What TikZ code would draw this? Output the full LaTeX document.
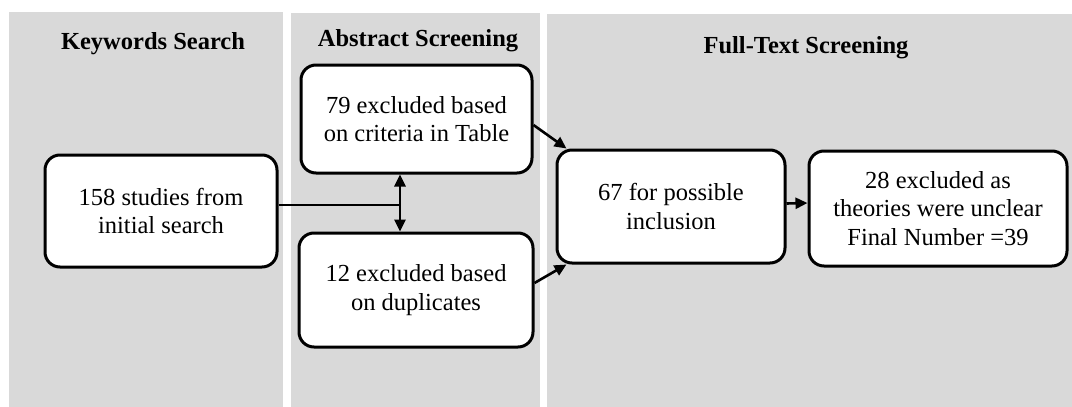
\documentclass[tikz,border=0pt]{standalone}
\usepackage{fontspec}
\setmainfont{Liberation Serif}
\usetikzlibrary{arrows.meta,calc}
\definecolor{panelgray}{HTML}{D9D9D9}
\begin{document}
\begin{tikzpicture}[x=1pt,y=-1pt,
  panel/.style={fill=panelgray,draw=none},
  title/.style={font=\fontsize{24.5}{28}\selectfont\bfseries,anchor=base},
  flowbox/.style={draw=black,fill=white,line width=3pt,rounded corners=15pt,
    align=center,font=\fontsize{24.5}{28.5}\selectfont,inner sep=0pt},
  conn/.style={line width=2.6pt},
  arr/.style={conn,-{Triangle[length=12pt,width=11pt]}},
  darr/.style={conn,{Triangle[length=12pt,width=11pt]}-{Triangle[length=12pt,width=11pt]}}]
\useasboundingbox (0,0) rectangle (1072,407);
\fill[white] (0,0) rectangle (1072,407);
% panels
\path[panel] (9,12) rectangle (283,407);
\path[panel] (291,13) rectangle (540,407);
\path[panel] (547,14) rectangle (1072,407);
% titles
\node[title] (t1) at (153,49) {Keywords Search};
\node[title] (t2) at (418,46) {Abstract Screening};
\node[title] (t3) at (806,53) {Full-Text Screening};
% boxes
\node[flowbox,minimum width=232pt,minimum height=112pt] (A) at (161,211) {158 studies from\\initial search};
\node[flowbox,minimum width=231pt,minimum height=108pt] (B) at (416.5,119) {79 excluded based\\on criteria in Table};
\node[flowbox,minimum width=234pt,minimum height=114pt] (C) at (416,290) {12 excluded based\\on duplicates};
\node[flowbox,minimum width=228pt,minimum height=113pt] (D) at (671,206.5) {67 for possible\\inclusion};
\node[flowbox,minimum width=258pt,minimum height=115pt] (E) at (938,208.5) {28 excluded as\\theories were unclear\\Final Number =39};
% connectors
\coordinate (j) at (400,205);
\draw[conn] (j -| A.east) -- (j);
\draw[darr] (B.south -| j) -- (C.north -| j);
\draw[arr] ($(B.east)+(0,6)$) -- ($(D.north west)+(11,0)$);
\draw[arr] ($(C.east)+(0,-7)$) -- ($(D.south west)+(11,0)$);
\draw[arr] ($(D.east)+(0,-3)$) -- ($(E.west)+(0,-5.5)$);
\end{tikzpicture}
\end{document}
